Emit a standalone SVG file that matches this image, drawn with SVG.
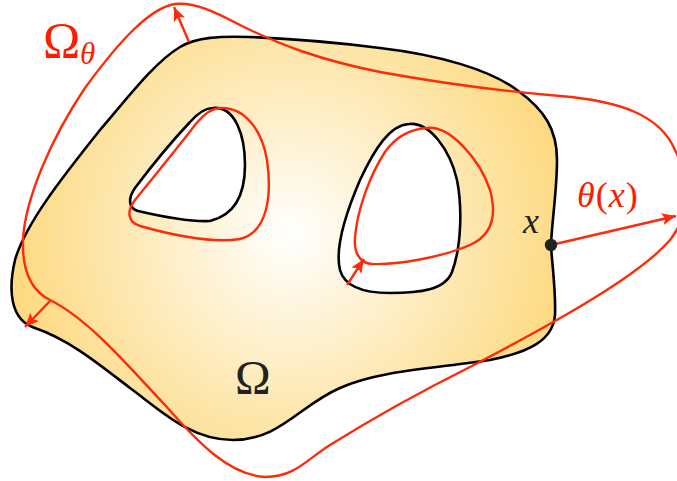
<svg xmlns="http://www.w3.org/2000/svg" width="677" height="481" viewBox="0 0 677 481">
<style>
.blk{fill:none;stroke:#000;stroke-width:2.6;stroke-linejoin:round}
.hole{fill:#fff;stroke:#000;stroke-width:2.6}
.red{fill:none;stroke:#FF2A0A;stroke-width:2.4}
.arr{fill:none;stroke:#FF2A0A;stroke-width:2.4;marker-end:url(#ah)}
.lbl{font-family:"Liberation Serif","DejaVu Serif",serif}
</style>
<defs>
<radialGradient id="g" gradientUnits="userSpaceOnUse" cx="290" cy="235" r="285">
<stop offset="0" stop-color="#FFFFFF"/>
<stop offset="1" stop-color="#FDD97E"/>
</radialGradient>
<marker id="ah" markerUnits="userSpaceOnUse" markerWidth="16" markerHeight="12" refX="14" refY="6" orient="auto">
<path d="M0,0 L14,6 L0,12 L3,6 Z" fill="#FF2A0A"/>
</marker>
</defs>
<g id="domain">
<path class="blk" style="fill:url(#g)" d="M180 47 C197 37,220 36,250 37 C300 39,340 43,380 48 C440 55,490 70,517 90 C545 110,557 130,557 160 C557 190,552 220,551 245 C552 265,556 290,555 315 C553 340,530 352,490 360 C440 368,380 370,340 388 C300 405,280 440,233 440 C190 440,160 410,130 388 C100 365,70 340,35 328 C10 320,8 290,15 260 C25 225,60 180,100 130 C130 95,155 62,180 47 Z"/>
</g>
<g id="hole-left">
<path class="hole" d="M213 108 C235 106,245 135,245 165 C245 195,235 215,210 221 C185 222,155 215,138 211 C128 208,128 198,135 188 C150 168,175 138,190 122 C198 113,205 108,213 108 Z"/>
</g>
<g id="hole-right">
<path class="hole" d="M409 124 C430 122,450 150,457 180 C462 205,462 245,452 272 C445 290,420 293,390 293 C365 293,345 288,340 270 C335 250,345 215,360 180 C375 148,390 125,409 124 Z"/>
</g>
<g id="deformed">
<path class="red" d="M175 4 C195 2,215 12,240 25 C280 45,320 60,380 72 C440 83,500 91,560 96 C620 101,660 115,675 150 C690 180,690 215,670 240 C640 275,560 320,470 367 C420 392,370 420,330 445 C306 460,295 477,265 477 C230 475,200 445,165 405 C130 368,90 320,50 300 C30 290,22 270,23 240 C25 200,50 140,85 88 C120 40,150 8,175 4 Z"/>
<path class="red" d="M222 108 C245 108,262 130,267 160 C272 195,268 232,240 239 C210 244,165 233,140 226 C128 222,126 212,135 200 C155 175,180 145,195 125 C205 113,212 108,222 108 Z"/>
<path class="red" d="M427 128 C450 125,480 160,490 190 C497 215,492 235,470 245 C440 258,395 265,372 264 C358 263,354 250,355 238 C357 210,370 175,385 152 C397 135,412 129,427 128 Z"/>
</g>
<g id="connectors">
<path class="arr" d="M189 42 L174 7"/>
<path class="arr" d="M50 301 L25 327"/>
<path class="arr" d="M347 285 L364 259"/>
<path class="arr" d="M551 245 L676 216"/>
</g>
<g id="point-x">
<circle cx="551" cy="245" r="6.2" fill="#222"/>
</g>
<g id="labels" class="lbl">
<text x="43" y="57" font-size="50" fill="#FF1A00">Ω</text>
<text x="80" y="64" font-size="31" font-style="italic" fill="#FF1A00">θ</text>
<text x="577" y="207" font-size="36" fill="#FF1A00" letter-spacing="1"><tspan font-style="italic">θ</tspan>(<tspan font-style="italic">x</tspan>)</text>
<text x="523" y="233" font-size="36" font-style="italic" fill="#222">x</text>
<text x="235" y="394" font-size="48" fill="#222">Ω</text>
</g>
</svg>
